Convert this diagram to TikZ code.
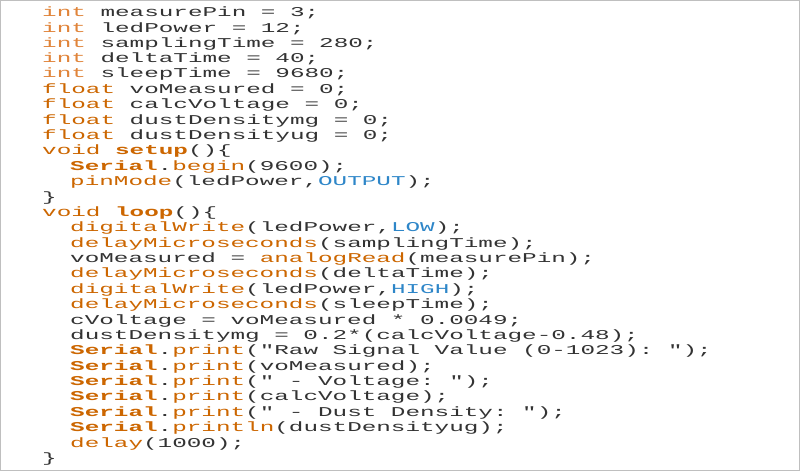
\documentclass[tikz,border=0pt]{standalone}
\usepackage{fontspec}
\setmonofont{Liberation Mono}
\usepackage{xcolor}
\definecolor{ArdOrange}{HTML}{CC6600}
\definecolor{ArdLight}{HTML}{E0843A}
\definecolor{ArdBlue}{HTML}{2E86C8}
\definecolor{CodeGray}{HTML}{333333}
\newcommand{\kw}[1]{\textcolor{ArdOrange}{#1}}
\newcommand{\kt}[1]{\textcolor{ArdLight}{#1}}
\newcommand{\kb}[1]{\textcolor{ArdOrange}{\bfseries #1}}
\newcommand{\cn}[1]{\textcolor{ArdBlue}{#1}}
\newcommand{\codeline}[1]{\scalebox{1.8}[1]{#1}}
\begin{document}
\begin{tikzpicture}[x=1pt,y=1pt,
    code/.style={anchor=west,inner sep=0pt,text=CodeGray,font=\ttfamily\fontsize{13.5}{13.5}\selectfont}]
                \useasboundingbox (0,0) rectangle (800,-471);
                \draw[gray!50, thick] (0.5,-0.5) rectangle (799.5,-470.5);

                \node[code] (L1)  at (42,-13.0)  {\codeline{\kt{int} measurePin = 3;}};
                \node[code] (L2)  at (42,-28.4)  {\codeline{\kt{int} ledPower = 12;}};
                \node[code] (L3)  at (42,-43.8)  {\codeline{\kt{int} samplingTime = 280;}};
                \node[code] (L4)  at (42,-59.1)  {\codeline{\kt{int} deltaTime = 40;}};
                \node[code] (L5)  at (42,-74.5)  {\codeline{\kt{int} sleepTime = 9680;}};
                \node[code] (L6)  at (42,-89.9)  {\codeline{\kw{float} voMeasured = 0;}};
                \node[code] (L7)  at (42,-105.3) {\codeline{\kw{float} calcVoltage = 0;}};
                \node[code] (L8)  at (42,-120.7) {\codeline{\kw{float} dustDensitymg = 0;}};
                \node[code] (L9)  at (42,-136.0) {\codeline{\kw{float} dustDensityug = 0;}};
                \node[code] (L10) at (42,-151.4) {\codeline{\kw{void} \kb{setup}()\{}};
                \node[code] (L11) at (70,-166.8) {\codeline{\kb{Serial}.\kw{begin}(9600);}};
                \node[code] (L12) at (70,-182.2) {\codeline{\kw{pinMode}(ledPower,\cn{OUTPUT});}};
                \node[code] (L13) at (42,-197.6) {\codeline{\}}};
                \node[code] (L14) at (42,-212.9) {\codeline{\kw{void} \kb{loop}()\{}};
                \node[code] (L15) at (70,-228.3) {\codeline{\kw{digitalWrite}(ledPower,\cn{LOW});}};
                \node[code] (L16) at (70,-243.7) {\codeline{\kw{delayMicroseconds}(samplingTime);}};
                \node[code] (L17) at (70,-259.1) {\codeline{voMeasured = \kw{analogRead}(measurePin);}};
                \node[code] (L18) at (70,-274.4) {\codeline{\kw{delayMicroseconds}(deltaTime);}};
                \node[code] (L19) at (70,-289.8) {\codeline{\kw{digitalWrite}(ledPower,\cn{HIGH});}};
                \node[code] (L20) at (70,-305.2) {\codeline{\kw{delayMicroseconds}(sleepTime);}};
                \node[code] (L21) at (70,-320.6) {\codeline{cVoltage = voMeasured * 0.0049;}};
                \node[code] (L22) at (70,-336.0) {\codeline{dustDensitymg = 0.2*(calcVoltage-0.48);}};
                \node[code] (L23) at (70,-351.3) {\codeline{\kb{Serial}.\kw{print}("Raw Signal Value (0-1023): ");}};
                \node[code] (L24) at (70,-366.7) {\codeline{\kb{Serial}.\kw{print}(voMeasured);}};
                \node[code] (L25) at (70,-382.1) {\codeline{\kb{Serial}.\kw{print}(" - Voltage: ");}};
                \node[code] (L26) at (70,-397.5) {\codeline{\kb{Serial}.\kw{print}(calcVoltage);}};
                \node[code] (L27) at (70,-412.9) {\codeline{\kb{Serial}.\kw{print}(" - Dust Density: ");}};
                \node[code] (L28) at (70,-428.2) {\codeline{\kb{Serial}.\kw{println}(dustDensityug);}};
                \node[code] (L29) at (70,-443.6) {\codeline{\kw{delay}(1000);}};
                \node[code] (L30) at (42,-459.0) {\codeline{\}}};
            \end{tikzpicture}
\end{document}
